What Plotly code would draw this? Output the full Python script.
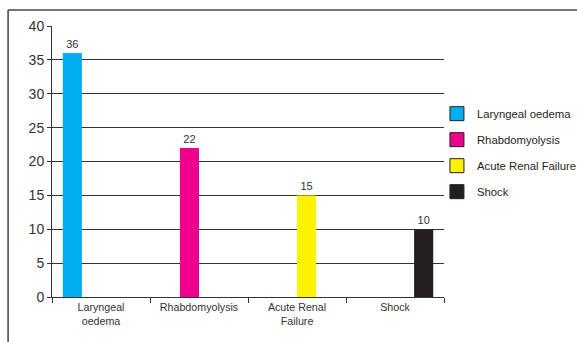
import plotly.graph_objects as go

categories = ["Laryngeal<br>oedema", "Rhabdomyolysis", "Acute Renal<br>Failure", "Shock"]
series_names = ["Laryngeal oedema", "Rhabdomyolysis", "Acute Renal Failure", "Shock"]
values = [36, 22, 15, 10]
colors = ["#00AEEF", "#EC008C", "#FFF200", "#231F20"]

fig = go.Figure()

# one series per complication, each filled only in its own category
for i, (name, val, col) in enumerate(zip(series_names, values, colors)):
    y = [None] * len(categories)
    y[i] = val
    txt = [""] * len(categories)
    txt[i] = str(val)
    fig.add_trace(go.Bar(
        x=categories, y=y, name=name, marker=dict(color=col, line=dict(width=0)),
        text=txt, textposition="outside", cliponaxis=False,
        textfont=dict(size=11, color="#333333"), showlegend=False,
    ))

# legend entries as bordered squares
for i, (name, col) in enumerate(zip(series_names, colors)):
    fig.add_trace(go.Scatter(
        x=[None], y=[None], mode="markers", name=name, legendgroup=name,
        marker=dict(symbol="square", size=14, color=col, line=dict(color="#231F20", width=1)),
    ))

fig.update_layout(
    width=577, height=342,
    margin=dict(l=52, r=133, t=26, b=45, autoexpand=False),
    paper_bgcolor="white", plot_bgcolor="white",
    barmode="group", bargap=0.22, bargroupgap=0,
    font=dict(family="Liberation Sans, Arial, sans-serif", color="#333333"),
    showlegend=True,
    legend=dict(x=0.982, y=0.73, xanchor="left", yanchor="top",
                font=dict(size=11.3, color="#231F20"), tracegroupgap=7,
                bgcolor="rgba(0,0,0,0)", itemwidth=30),
)

fig.update_yaxes(
    range=[0, 40], dtick=5, showgrid=True, gridcolor="#333333", gridwidth=1,
    showline=True, linecolor="#333333", linewidth=1,
    ticks="outside", ticklen=4, tickcolor="#333333",
    tickfont=dict(size=14, color="#333333"), zeroline=False,
)
fig.update_xaxes(
    showline=True, linecolor="#333333", linewidth=1,
    ticks="outside", tickson="boundaries", ticklen=5, tickcolor="#333333",
    tickfont=dict(size=10.7, color="#333333"),
)

# outer frame around the chart
fig.add_shape(type="line", xref="paper", yref="paper",
              x0=-0.112, x1=1.35, y0=1.059, y1=1.059,
              line=dict(color="#444444", width=1.5))
fig.add_shape(type="line", xref="paper", yref="paper",
              x0=-0.112, x1=-0.112, y0=1.059, y1=-0.2,
              line=dict(color="#444444", width=1.5))

fig.write_html("out.html")
